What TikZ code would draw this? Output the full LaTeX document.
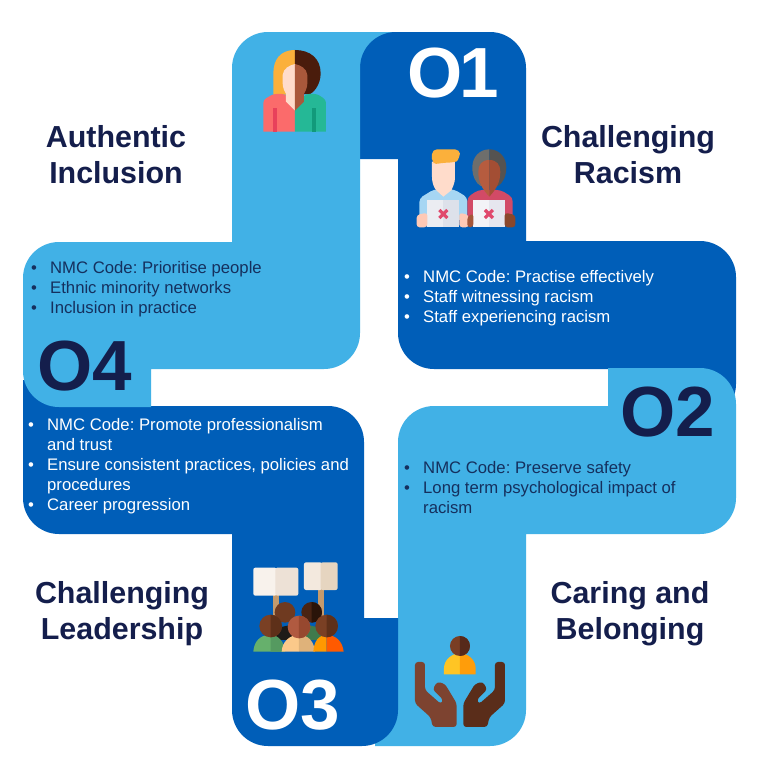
\documentclass[tikz,border=0pt]{standalone}
\usepackage{fontspec}
\setmainfont{Liberation Sans}
\frenchspacing
\definecolor{lightblue}{HTML}{41B1E6}
\definecolor{darkblue}{HTML}{005EB8}
\definecolor{inkdark}{HTML}{141E4C}
\definecolor{inkbody}{HTML}{15305E}
\newcommand{\bul}[1]{\makebox[19pt][l]{•}#1}
\newcommand{\cont}[1]{\hspace*{19pt}#1}
\tikzset{
  hexc/.code={\definecolor{tmpc}{HTML}{#1}\tikzset{color=tmpc}},
  rc/.style={rounded corners=36pt},
  listtext/.style={anchor=north west,inner sep=0pt,align=left,font=\fontsize{16.7}{20}\selectfont},
  title/.style={inner sep=0pt,align=center,text=inkdark,font=\fontsize{30.4}{36.5}\selectfont\bfseries},
  bignum/.style={inner sep=0pt,font=\fontsize{71}{71}\selectfont\bfseries},
  iconzoom/.style={x=0.3333pt,y=-0.3333pt}
}
\begin{document}
\begin{tikzpicture}[x=1pt,y=-1pt]
\useasboundingbox (0,0) rectangle (763,771);
\fill[white] (0,0) rectangle (763,771);
% ear of the light arm behind the dark arm
\fill[lightblue] (355,32) rectangle (400,72);
% dark arm, top right
\fill[darkblue] (360,159) [rc] -- (360,32) -- (526,32) [sharp corners] -- (526,241) [rc] -- (736,241) -- (736,420) [sharp corners] -- (620,420) -- (620,369) [rc] -- (398,369) [sharp corners] -- (398,159) -- cycle;
% light arm, bottom right
\fill[lightblue] (375,746) -- (375,700) -- (398,700) [rc] -- (398,406) [sharp corners] -- (608,406) -- (608,368) [rc] -- (736,368) -- (736,534) [sharp corners] -- (526,534) [rc] -- (526,746) [sharp corners] -- cycle;
% dark arm, bottom left
\fill[darkblue] (23,380) -- (130,380) -- (130,406) [rc] -- (364,406) [sharp corners] -- (364,618) -- (398,618) [rc] -- (398,746) -- (232,746) [sharp corners] -- (232,534) [rc] -- (23,534) [sharp corners] -- cycle;
% light arm, top left
\fill[lightblue] (360,32) [rc] -- (232,32) [sharp corners] -- (232,242) [rc] -- (23,242) -- (23,407) [sharp corners] -- (151,407) -- (151,369) [rc] -- (360,369) [sharp corners] -- cycle;

% icon: woman
\begin{scope}[shift={(230,20)},iconzoom]
\fill[hexc=FBB03B] (195,90) .. controls (150,90) and (130,120) .. (130,160) -- (130,224) -- (195,224) -- cycle;
\fill[hexc=4A1C0C] (195,90) .. controls (240,90) and (272,115) .. (272,160) .. controls (272,190) and (255,215) .. (240,222) -- (195,224) -- cycle;
\fill[hexc=FB6B6B,rounded corners=3pt] (100,335) -- (100,240) -- (130,222) -- (165,222) [sharp corners] -- (195,262) -- (195,335) -- cycle;
\fill[hexc=25B896,rounded corners=3pt] (288,335) -- (288,240) -- (262,222) -- (228,222) [sharp corners] -- (195,262) -- (195,335) -- cycle;
\fill[hexc=FFDCCB] (195,132) .. controls (178,136) and (160,145) .. (158,165) -- (158,190) .. controls (158,205) and (165,215) .. (168,222) -- (168,245) -- (195,272) -- cycle;
\fill[hexc=A9583B] (195,132) .. controls (212,136) and (230,145) .. (232,165) -- (232,190) .. controls (232,205) and (225,215) .. (222,222) -- (222,245) -- (195,272) -- cycle;
\fill[hexc=E8415B] (129,265) rectangle (142,335);
\fill[hexc=129A7A] (245,265) rectangle (258,335);
\end{scope}

% icon: two people with crossed papers
\begin{scope}[shift={(230,20)},iconzoom]
\fill[hexc=A6D6F3,rounded corners=4pt] (568,600) -- (568,535) -- (612,508) -- (672,508) -- (712,532) -- (712,600) -- cycle;
\fill[hexc=FFDCCB] (606,425) -- (675,425) -- (675,470) .. controls (675,495) and (665,505) .. (665,510) -- (640,530) -- (618,510) .. controls (610,500) and (606,485) .. (606,470) -- cycle;
\fill[hexc=FBB03B,rounded corners=5pt] (606,432) -- (606,388) -- (690,388) -- (690,412) .. controls (680,425) and (660,428) .. (640,428) -- (620,432) -- cycle;
\fill[hexc=6E6E6C] (778,388) .. controls (748,388) and (727,412) .. (727,442) .. controls (727,470) and (738,490) .. (752,498) -- (778,498) -- cycle;
\fill[hexc=555351] (778,388) .. controls (808,388) and (829,412) .. (829,442) .. controls (829,470) and (818,490) .. (804,498) -- (778,498) -- cycle;
\fill[hexc=D24A66,rounded corners=4pt] (712,600) -- (712,532) -- (745,510) -- (812,510) -- (848,532) -- (848,600) -- cycle;
\fill[hexc=B65C3F] (778,420) .. controls (755,420) and (745,435) .. (745,455) .. controls (745,485) and (755,505) .. (778,530) -- cycle;
\fill[hexc=A34E34] (778,420) .. controls (801,420) and (811,435) .. (811,455) .. controls (811,485) and (801,505) .. (778,530) -- cycle;
\fill[hexc=EBEDF2] (592,540) rectangle (640,622);
\fill[hexc=DDE1EA] (640,540) rectangle (688,622);
\fill[hexc=FFC9B5,rounded corners=3pt] (560,622) -- (560,585) -- (592,578) -- (592,622) -- cycle;
\fill[hexc=FFC9B5,rounded corners=3pt] (716,622) -- (716,585) -- (688,578) -- (688,622) -- cycle;
\fill[hexc=F3F3F7] (730,540) rectangle (776,622);
\fill[hexc=E6E6EE] (776,540) rectangle (824,622);
\fill[hexc=A4563A,rounded corners=3pt] (712,622) -- (712,590) -- (730,580) -- (730,622) -- cycle;
\fill[hexc=8A472C,rounded corners=3pt] (856,622) -- (856,585) -- (824,578) -- (824,622) -- cycle;
\draw[hexc=E0486C,line width=3.2pt] (628,570) -- (652,594) (652,570) -- (628,594);
\draw[hexc=E0486C,line width=3.2pt] (765,570) -- (789,594) (789,570) -- (765,594);
\end{scope}

% icon: protest
\begin{scope}[shift={(230,540)},iconzoom]
\fill[hexc=C49A6C] (130,165) rectangle (146,240);
\fill[hexc=C49A6C] (265,148) rectangle (281,240);
\fill[hexc=F8F2EC,rounded corners=2pt] (70,83) rectangle (140,167);
\fill[hexc=EDE1D6,rounded corners=2pt] (136,83) rectangle (205,167);
\fill[hexc=F3E9DE,rounded corners=2pt] (222,67) rectangle (276,150);
\fill[hexc=E6D5C0,rounded corners=2pt] (272,67) rectangle (323,150);
\fill[hexc=1E1B18] (135,300) -- (135,265) -- (205,250) -- (205,300) -- cycle;
\fill[hexc=3F7A4C] (215,300) -- (215,250) -- (275,265) -- (275,300) -- cycle;
\fill[hexc=6F3A20] (165,217) circle[radius=31];
\fill[hexc=4A2413] (245,217) circle[radius=31];
\fill[hexc=2A1409] (245,186) arc[start angle=-90,end angle=90,radius=31] -- cycle;
% front people
\fill[hexc=66B06C] (70,335) .. controls (72,305) and (90,285) .. (118,285) .. controls (145,285) and (162,305) .. (165,335) -- cycle;
\fill[hexc=559A60] (122,285) .. controls (145,285) and (162,305) .. (165,335) -- (122,335) -- cycle;
\fill[hexc=FBC98A] (155,335) .. controls (157,305) and (178,285) .. (207,285) -- (207,335) -- cycle;
\fill[hexc=DFB27A] (207,285) .. controls (236,285) and (252,305) .. (255,335) -- (207,335) -- cycle;
\fill[hexc=FF9800] (250,335) .. controls (252,305) and (265,285) .. (290,285) -- (290,335) -- cycle;
\fill[hexc=FF5A00] (290,285) .. controls (318,285) and (338,305) .. (341,335) -- (290,335) -- cycle;
\fill[hexc=7A4024] (122,258) circle[radius=34];
\fill[hexc=5E3019] (122,224) arc[start angle=-90,end angle=90,radius=34] -- cycle;
\fill[hexc=B05A40] (207,261) circle[radius=34];
\fill[hexc=97482F] (207,227) arc[start angle=-90,end angle=90,radius=34] -- cycle;
\fill[hexc=7A4024] (290,258) circle[radius=34];
\fill[hexc=5E3019] (290,224) arc[start angle=-90,end angle=90,radius=34] -- cycle;
\end{scope}

% icon: held hands
\begin{scope}[shift={(230,540)},iconzoom]
\fill[hexc=FFC524] (642,403) -- (642,385) .. controls (642,360) and (665,340) .. (690,340) -- (690,403) -- cycle;
\fill[hexc=FF9D0A] (737,403) -- (737,385) .. controls (737,360) and (715,340) .. (690,340) -- (690,403) -- cycle;
\fill[hexc=7A3E24] (690,318) circle[radius=30];
\fill[hexc=56291A] (690,288) arc[start angle=-90,end angle=90,radius=30] -- cycle;
\fill[hexc=7D4330,rounded corners=3pt] (555,366) -- (585,366) -- (585,450) -- (633,492) -- (640,480) -- (608,448) -- (622,425) -- (645,432) -- (680,490) -- (680,561) -- (608,561) -- (602,532) -- (555,490) -- cycle;
\fill[hexc=5A2D1A,rounded corners=3pt] (825,366) -- (795,366) -- (795,450) -- (747,492) -- (740,480) -- (772,448) -- (758,425) -- (735,432) -- (700,490) -- (700,561) -- (772,561) -- (778,532) -- (825,490) -- cycle;
\end{scope}

% big labels
\node[bignum,text=white] (o1) at (453.5,73) {O\kern-3pt 1};
\node[bignum,text=inkdark] (o2) at (668,412) {O2};
\node[bignum,text=white] (o3) at (292.5,705) {O3};
\node[bignum,text=inkdark] (o4) at (84.5,366) {O4};

% titles
\node[title] (t1) at (628,154.5) {Challenging\\Racism};
\node[title] (t2) at (630,613.5) {Caring and\\Belonging};
\node[title] (t3) at (122,613.5) {Challenging\\Leadership};
\node[title] (t4) at (116,154.5) {Authentic\\Inclusion};

% lists
\node[listtext,text=inkbody] (l4) at (31,261.5) {\bul{NMC Code: Prioritise people}\\\bul{Ethnic minority networks}\\\bul{Inclusion in practice}};
\node[listtext,text=white] (l3) at (28,418.5) {\bul{NMC Code: Promote professionalism}\\\cont{and trust}\\\bul{Ensure consistent practices, policies and}\\\cont{procedures}\\\bul{Career progression}};
\node[listtext,text=white] (l1) at (404,270) {\bul{NMC Code: Practise effectively}\\\bul{Staff witnessing racism}\\\bul{Staff experiencing racism}};
\node[listtext,text=inkbody] (l2) at (404,461.5) {\bul{NMC Code: Preserve safety}\\\bul{Long term psychological impact of}\\\cont{racism}};
\end{tikzpicture}
\end{document}
